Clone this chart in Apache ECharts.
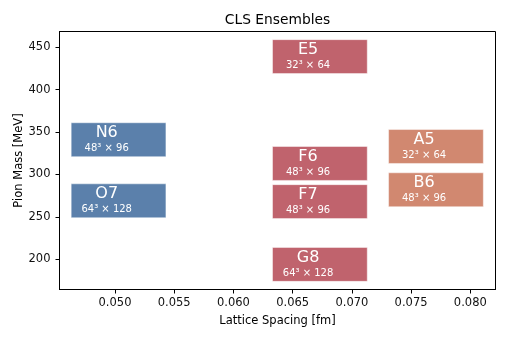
<!DOCTYPE html>
<html>
<head>
<meta charset="utf-8">
<script src="https://cdn.jsdelivr.net/npm/echarts@6/dist/echarts.min.js"></script>
<style>html,body{margin:0;padding:0;background:#fff}#c{width:508px;height:339px}</style>
</head>
<body>
<div id="c"></div>
<script>
const names = ['N6', 'O7', 'E5', 'F6', 'F7', 'G8', 'A5', 'B6'];
const spacing = [0.0503, 0.0503, 0.0673, 0.0673, 0.0673, 0.0673, 0.0771, 0.0771];
const pionMass = [341, 269, 439, 313, 268, 194, 333, 282];
const lattices = ['48³ × 96', '64³ × 128', '32³ × 64', '48³ × 96', '48³ × 96', '64³ × 128', '32³ × 64', '48³ × 96'];
const groups = [0, 0, 1, 1, 1, 1, 2, 2];
const xTicks = [0.050, 0.055, 0.060, 0.065, 0.070, 0.075, 0.080];
const yTicks = [200, 250, 300, 350, 400, 450];

const colors = ['#5b80ab', '#c0636d', '#d18870'];
const BOX_W = 0.008, BOX_H = 40, TEXT_SHIFT = 0.001;
const FONT = 'DejaVu Sans';

const data = names.map((n, i) => [spacing[i], pionMass[i], i]);

const chart = echarts.init(document.getElementById('c'), null, {renderer: 'canvas'});
chart.setOption({
  animation: false,
  backgroundColor: '#fff',
  graphic: [{
    type: 'text', x: 277.5, y: 20,
    style: {text: 'CLS Ensembles', align: 'center', verticalAlign: 'middle', fill: '#000', font: '13.8px "DejaVu Sans"'}
  }],
  grid: {left: 59.5, right: 12.5, top: 31.5, bottom: 49.5, show: true, borderColor: '#000', borderWidth: 1, backgroundColor: 'transparent'},
  xAxis: {
    type: 'value', min: 0.045314, max: 0.082128,
    name: 'Lattice Spacing [fm]', nameLocation: 'middle', nameGap: 26, nameMoveOverlap: false,
    nameTextStyle: {fontFamily: FONT, fontSize: 11.5, color: '#000'},
    axisLine: {show: true, onZero: false, lineStyle: {color: '#000', width: 1}},
    axisTick: {show: true, length: 4, lineStyle: {color: '#000'}, customValues: xTicks},
    axisLabel: {customValues: xTicks, margin: 8, fontFamily: FONT, fontSize: 11.5, color: '#111', formatter: v => v.toFixed(3)},
    splitLine: {show: false}
  },
  yAxis: {
    type: 'value', min: 164.4, max: 468.6,
    name: 'Pion Mass [MeV]', nameLocation: 'middle', nameGap: 34, nameMoveOverlap: false,
    nameTextStyle: {fontFamily: FONT, fontSize: 11.5, color: '#000'},
    axisLine: {show: true, onZero: false, lineStyle: {color: '#000', width: 1}},
    axisTick: {show: true, length: 4, lineStyle: {color: '#000'}, customValues: yTicks},
    axisLabel: {customValues: yTicks, margin: 9, fontFamily: FONT, fontSize: 11.5, color: '#111', formatter: v => String(v)},
    splitLine: {show: false}
  },
  series: [{
    type: 'custom',
    data: data,
    renderItem: function (params, api) {
      const a = api.value(0), m = api.value(1), i = api.value(2);
      const c = api.coord([a, m]);
      const s = api.size([BOX_W, BOX_H]);
      const tx = api.coord([a - TEXT_SHIFT, m])[0];
      return {
        type: 'group',
        children: [
          {type: 'rect', shape: {x: c[0] - s[0] / 2, y: c[1] - s[1] / 2, width: s[0], height: s[1]},
           style: {fill: colors[groups[i]], stroke: 'rgba(255,255,255,0.45)', lineWidth: 1}},
          {type: 'text', style: {text: names[i], x: tx, y: c[1] - 7, align: 'center', verticalAlign: 'middle',
            fill: '#fff', font: '16px "DejaVu Sans"'}},
          {type: 'text', style: {text: lattices[i], x: tx, y: c[1] + 9, align: 'center', verticalAlign: 'middle',
            fill: '#fff', font: '10px "DejaVu Sans"'}}
        ]
      };
    }
  }]
});
</script>
</body>
</html>
